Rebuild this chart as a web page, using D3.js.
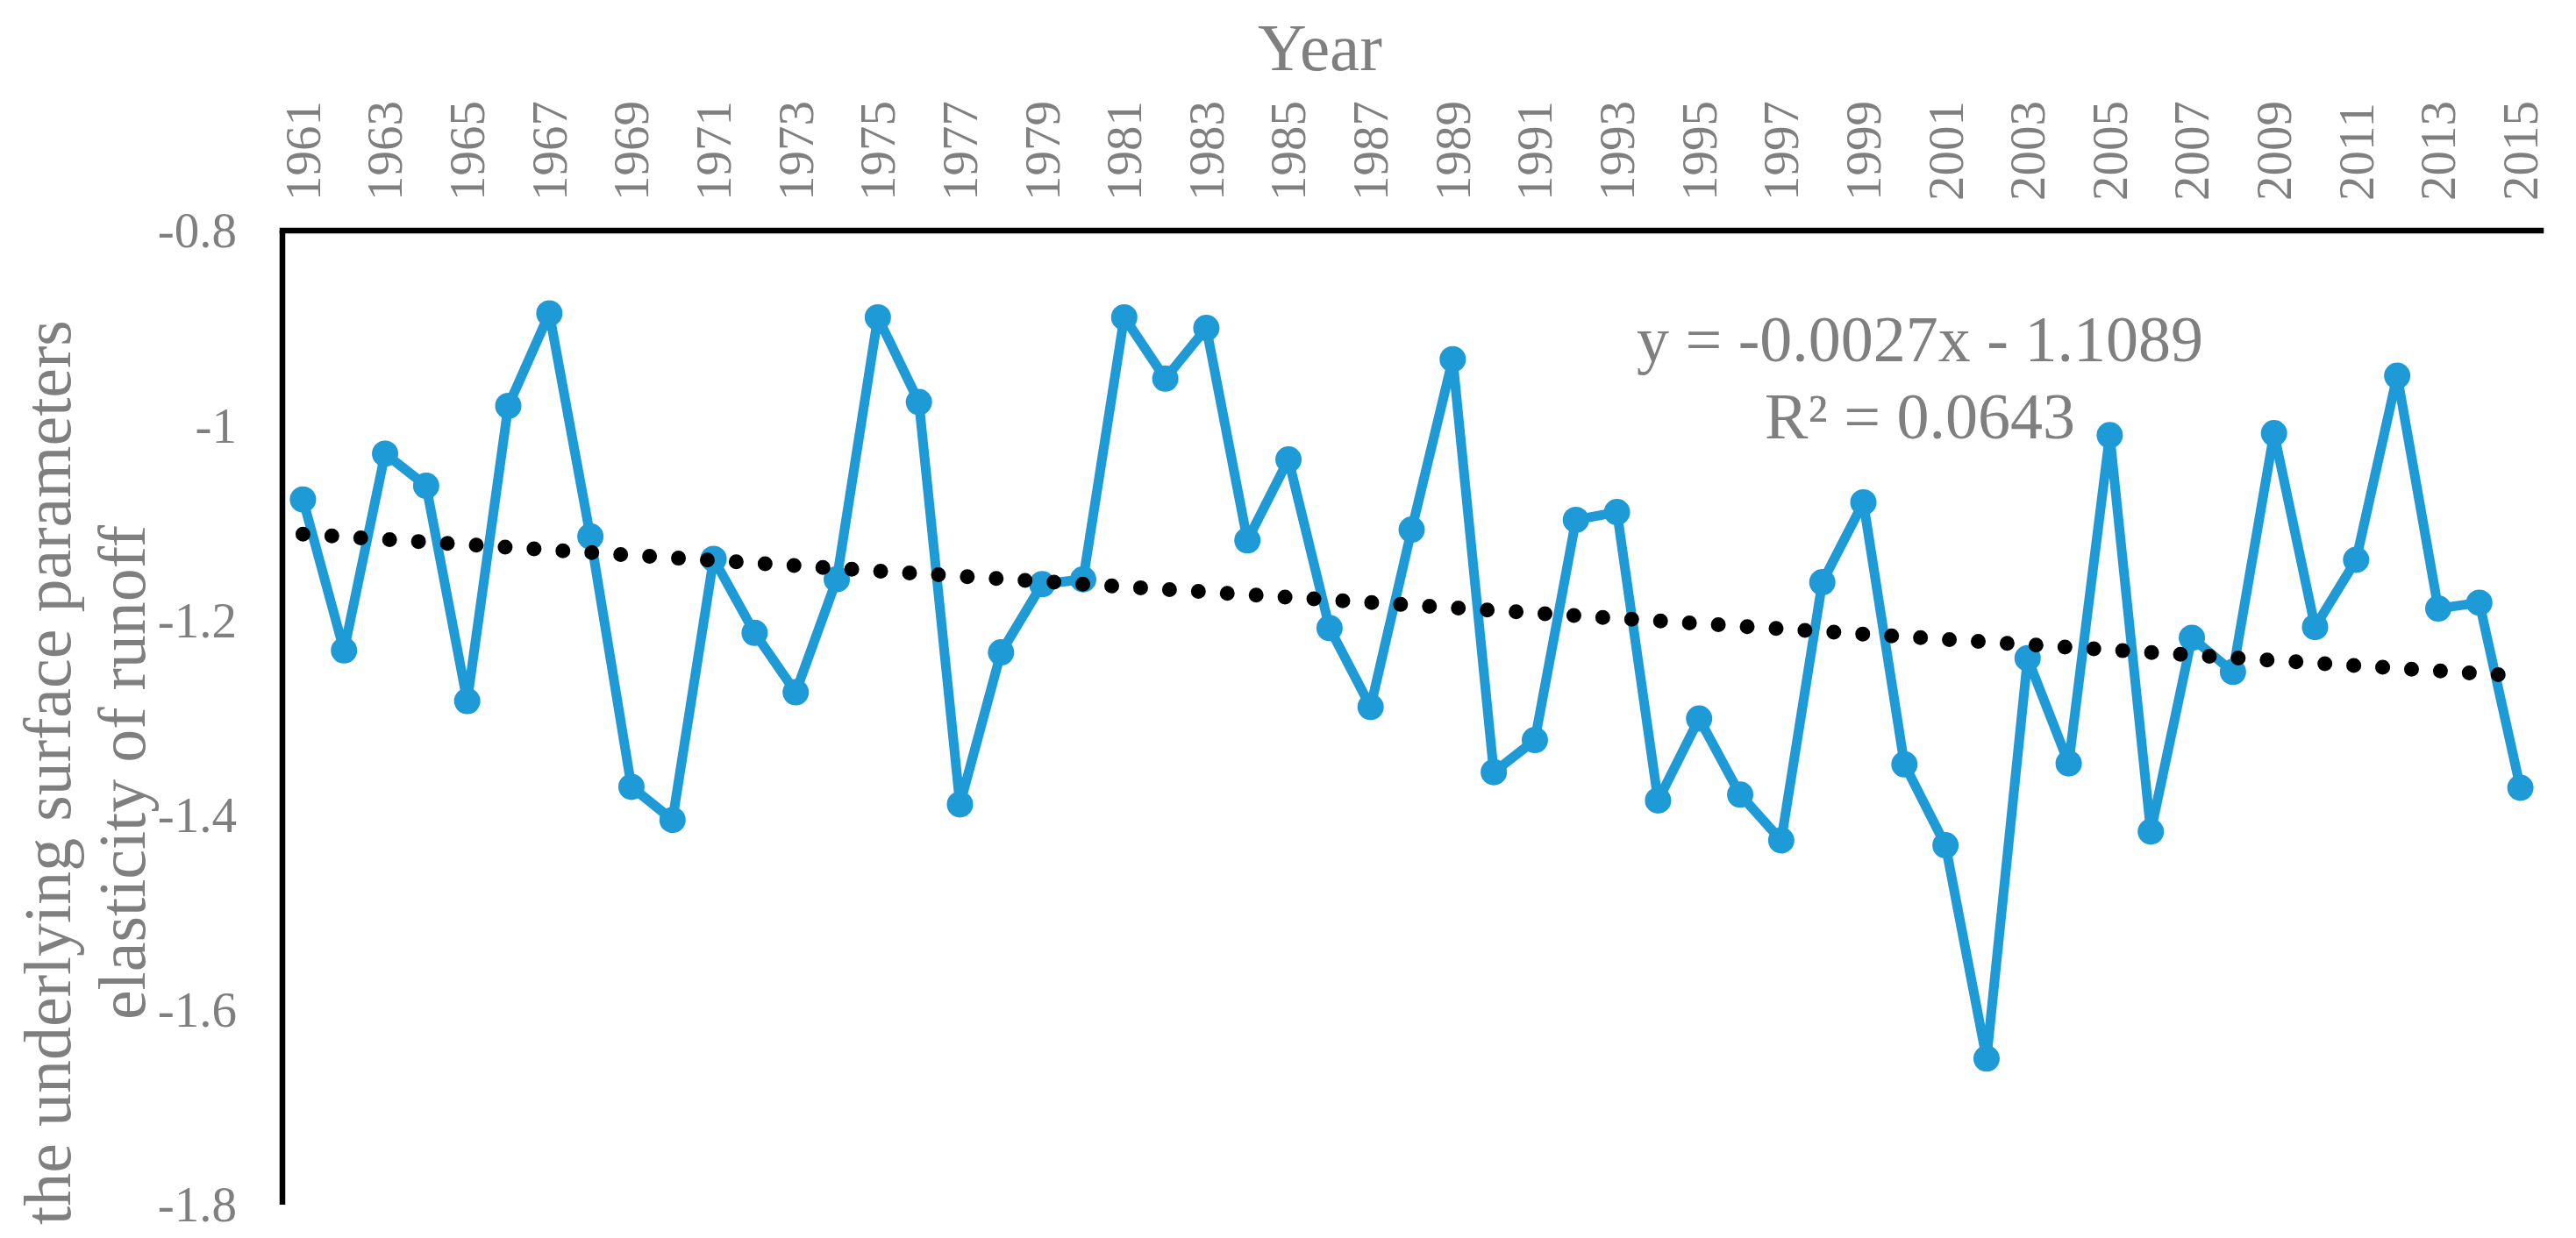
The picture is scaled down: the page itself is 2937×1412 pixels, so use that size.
<!DOCTYPE html>
<html>
<head>
<meta charset="utf-8">
<script src="https://cdn.jsdelivr.net/npm/d3@7"></script>
<style>
  html, body { margin: 0; padding: 0; background: #fff; }
  svg { display: block; }
</style>
</head>
<body>
<div id="chart"></div>
<script>
// Years on the category axis
const years = d3.range(1961, 2016);

// Elasticity of runoff to the underlying surface parameter, one value per year
const elasticity = [
  -1.076, -1.231, -1.029, -1.062, -1.283, -0.980, -0.885, -1.114, -1.371, -1.405,
  -1.137, -1.213, -1.274, -1.158, -0.889, -0.976, -1.389, -1.233, -1.163, -1.158,
  -0.889, -0.952, -0.900, -1.118, -1.035, -1.208, -1.289, -1.107, -0.932, -1.356,
  -1.323, -1.097, -1.089, -1.385, -1.301, -1.379, -1.426, -1.161, -1.079, -1.348,
  -1.431, -1.650, -1.239, -1.347, -1.010, -1.417, -1.218, -1.253, -1.008, -1.207,
  -1.138, -0.949, -1.188, -1.182, -1.372
];

// Only every other year gets a label
const yearLabels = years.filter((y, i) => i % 2 === 0);
const valueTicks = [-0.8, -1, -1.2, -1.4, -1.6, -1.8];

// Linear trendline as printed on the chart (x = 1..55)
const trendSlope = -0.0027;
const trendIntercept = -1.1089;
const trendLabels = ["y = -0.0027x - 1.1089", "R\u00b2 = 0.0643"];

const axisTitleX = "Year";
const axisTitleY = ["the underlying surface parameters", "elasticity of runoff"];

const width = 2937;
const height = 1412;
const font = "'Liberation Serif', 'Times New Roman', serif";
const grey = "#7f7f7f";
const blue = "#1e9bd7";

const svg = d3.select("#chart")
  .append("svg")
  .attr("width", width)
  .attr("height", height)
  .style("background", "#fff");

const x = d3.scalePoint()
  .domain(years)
  .range([322, 2897])
  .padding(0.5);

const y = d3.scaleLinear()
  .domain([-1.8, -0.8])
  .range([1374, 263]);

// Axis lines (category axis sits on top, crossing at -0.8)
svg.append("line")
  .attr("x1", 322).attr("x2", 2897)
  .attr("y1", y(-0.8)).attr("y2", y(-0.8))
  .attr("stroke", "#000")
  .attr("stroke-width", 6.5)
  .attr("stroke-linecap", "square");

svg.append("line")
  .attr("x1", 322).attr("x2", 322)
  .attr("y1", y(-0.8)).attr("y2", y(-1.8))
  .attr("stroke", "#000")
  .attr("stroke-width", 6.5);

// Value tick labels (plain hyphen, as in the original)
svg.append("g")
  .selectAll("text")
  .data(valueTicks)
  .join("text")
  .attr("x", 270)
  .attr("y", d => y(d))
  .attr("dy", "0.34em")
  .attr("text-anchor", "end")
  .attr("font-family", font)
  .attr("font-size", 57)
  .attr("fill", grey)
  .text(d => String(d));

// Year tick labels, rotated
svg.append("g")
  .selectAll("text")
  .data(yearLabels)
  .join("text")
  .attr("transform", d => `translate(${x(d)},229) rotate(-90)`)
  .attr("dy", "0.34em")
  .attr("text-anchor", "start")
  .attr("font-family", font)
  .attr("font-size", 57)
  .attr("fill", grey)
  .text(d => d);

// Axis titles
svg.append("text")
  .attr("x", 1505)
  .attr("y", 80)
  .attr("text-anchor", "middle")
  .attr("font-family", font)
  .attr("font-size", 77)
  .attr("fill", grey)
  .text(axisTitleX);

svg.append("g")
  .selectAll("text")
  .data(axisTitleY)
  .join("text")
  .attr("transform", (d, i) => `translate(${80 + i * 85},881) rotate(-90)`)
  .attr("text-anchor", "middle")
  .attr("font-family", font)
  .attr("font-size", 76)
  .attr("fill", grey)
  .text(d => d);

// Data series
const series = years.map((yr, i) => ({ year: yr, value: elasticity[i] }));

svg.append("path")
  .datum(series)
  .attr("fill", "none")
  .attr("stroke", blue)
  .attr("stroke-width", 11)
  .attr("stroke-linejoin", "round")
  .attr("d", d3.line().x(d => x(d.year)).y(d => y(d.value)));

svg.append("g")
  .selectAll("circle")
  .data(series)
  .join("circle")
  .attr("cx", d => x(d.year))
  .attr("cy", d => y(d.value))
  .attr("r", 15)
  .attr("fill", blue);

// Dotted trendline on top
const trend = years.map((yr, i) => ({ year: yr, value: trendSlope * (i + 1) + trendIntercept }));

svg.append("path")
  .datum([trend[0], trend[trend.length - 1]])
  .attr("fill", "none")
  .attr("stroke", "#000")
  .attr("stroke-width", 17)
  .attr("stroke-linecap", "round")
  .attr("stroke-dasharray", "0 33")
  .attr("d", d3.line().x(d => x(d.year)).y(d => y(d.value)));

// Trendline equation
svg.append("g")
  .selectAll("text")
  .data(trendLabels)
  .join("text")
  .attr("x", 2189)
  .attr("y", (d, i) => 412 + i * 88)
  .attr("text-anchor", "middle")
  .attr("font-family", font)
  .attr("font-size", 74)
  .attr("fill", grey)
  .text(d => d);
</script>
</body>
</html>
